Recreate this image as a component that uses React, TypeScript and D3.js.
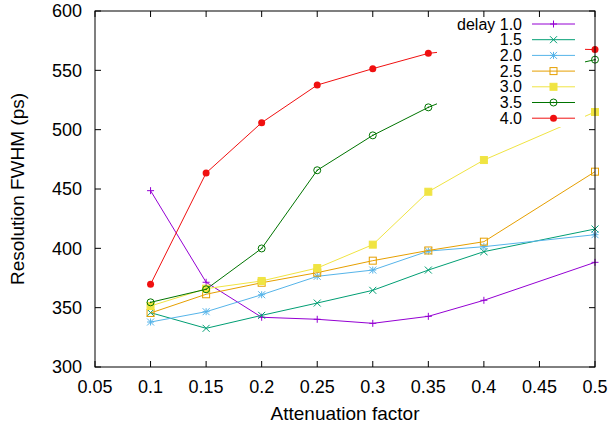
import React from "react";
import * as d3 from "d3";

const xValues = [0.1, 0.15, 0.2, 0.25, 0.3, 0.35, 0.4, 0.5];
const delayLabels = ["delay 1.0", "1.5", "2.0", "2.5", "3.0", "3.5", "4.0"];
const s10 = [448.6, 371.4, 341.9, 340.2, 336.8, 342.7, 356.2, 388.2];
const s15 = [345.8, 332.6, 343.5, 353.9, 364.6, 381.7, 397.2, 416.3];
const s20 = [337.9, 346.6, 360.9, 376.4, 381.7, 397.7, 401.4, 411.5];
const s25 = [345.5, 361.3, 371.0, 379.5, 389.6, 398.2, 405.6, 464.6];
const s30 = [351.4, 366.0, 372.5, 383.4, 403.1, 447.7, 474.4, 514.9];
const s35 = [354.5, 365.5, 399.9, 465.8, 495.2, 518.8, 538.0, 559.0];
const s40 = [369.7, 463.5, 505.9, 537.6, 551.4, 564.3, 569.5, 567.5];
const xTicks = [0.05, 0.1, 0.15, 0.2, 0.25, 0.3, 0.35, 0.4, 0.45, 0.5];
const yTicks = [300, 350, 400, 450, 500, 550, 600];

const seriesValues = [s10, s15, s20, s25, s30, s35, s40];
const colors = ["#9400d3", "#009e73", "#56b4e9", "#e69f00", "#f0e442", "#007400", "#f01010"];
const markers = ["plus", "cross", "star", "square", "fsquare", "circle", "fcircle"];

const W = 612, H = 428;
const left = 95, right = 595, top = 11, bottom = 367;
const FONT = "'Liberation Sans', Arial, sans-serif";

function Marker({ type, x, y, color }: { type: string; x: number; y: number; color: string }) {
  const s = 3.5;
  switch (type) {
    case "plus":
      return <path d={`M${x - s},${y}H${x + s}M${x},${y - s}V${y + s}`} stroke={color} strokeWidth={1} />;
    case "cross":
      return <path d={`M${x - s},${y - s}L${x + s},${y + s}M${x - s},${y + s}L${x + s},${y - s}`} stroke={color} strokeWidth={1} />;
    case "star":
      return <path d={`M${x - s},${y}H${x + s}M${x},${y - s}V${y + s}M${x - s},${y - s}L${x + s},${y + s}M${x - s},${y + s}L${x + s},${y - s}`} stroke={color} strokeWidth={1} />;
    case "square":
      return <rect x={x - s} y={y - s} width={2 * s} height={2 * s} fill="none" stroke={color} strokeWidth={1} />;
    case "fsquare":
      return <rect x={x - s} y={y - s} width={2 * s} height={2 * s} fill={color} stroke={color} strokeWidth={1} />;
    case "circle":
      return (
        <g>
          <circle cx={x} cy={y} r={s} fill="none" stroke={color} strokeWidth={1} />
          <circle cx={x} cy={y} r={0.8} fill={color} />
        </g>
      );
    default:
      return <circle cx={x} cy={y} r={s} fill={color} />;
  }
}

export default function App() {
  const x = d3.scaleLinear().domain([0.05, 0.5]).range([left, right]);
  const y = d3.scaleLinear().domain([300, 600]).range([bottom, top]);
  const line = d3.line<[number, number]>().x((d) => x(d[0])).y((d) => y(d[1]));

  const legX = 437, legY = 12, legW = 148, legH = 115;
  const rowY = (i: number) => 24 + i * 15.7;

  return (
    <svg width={W} height={H} style={{ position: "absolute", left: 0, top: 0 }} fontFamily={FONT}>
      <rect x={0} y={0} width={W} height={H} fill="#fff" />
      {seriesValues.map((vals, si) => {
        const pts = vals.map((v, i) => [xValues[i], v] as [number, number]);
        return (
          <g key={si}>
            <path d={line(pts) || ""} fill="none" stroke={colors[si]} strokeWidth={1} />
            {pts.map((p, i) => (
              <Marker key={i} type={markers[si]} x={x(p[0])} y={y(p[1])} color={colors[si]} />
            ))}
          </g>
        );
      })}
      {/* opaque key */}
      <rect x={legX} y={legY} width={legW} height={legH} fill="#fff" />
      {delayLabels.map((lab, i) => (
        <g key={lab}>
          <text x={522} y={rowY(i)} dy="0.35em" textAnchor="end" fontSize={16} fill="#000">
            {lab}
          </text>
          <line x1={532} x2={575} y1={rowY(i)} y2={rowY(i)} stroke={colors[i]} strokeWidth={1} />
          <Marker type={markers[i]} x={553.5} y={rowY(i)} color={colors[i]} />
        </g>
      ))}
      {/* ticks */}
      {xTicks.map((t) => (
        <g key={t}>
          <line x1={x(t)} x2={x(t)} y1={bottom} y2={bottom - 6} stroke="#000" />
          <line x1={x(t)} x2={x(t)} y1={top} y2={top + 6} stroke="#000" />
          <text x={x(t)} y={393} textAnchor="middle" fontSize={18}>
            {String(t)}
          </text>
        </g>
      ))}
      {yTicks.map((t) => (
        <g key={t}>
          <line x1={left} x2={left + 6} y1={y(t)} y2={y(t)} stroke="#000" />
          <line x1={right} x2={right - 6} y1={y(t)} y2={y(t)} stroke="#000" />
          <text x={82} y={y(t)} dy="0.35em" textAnchor="end" fontSize={18}>
            {t}
          </text>
        </g>
      ))}
      <rect x={left} y={top} width={right - left} height={bottom - top} fill="none" stroke="#000" strokeWidth={1} />
      <text x={(left + right) / 2} y={420} textAnchor="middle" fontSize={19}>
        Attenuation factor
      </text>
      <text transform={`translate(24,${(top + bottom) / 2}) rotate(-90)`} textAnchor="middle" fontSize={19}>
        Resolution FWHM (ps)
      </text>
    </svg>
  );
}
